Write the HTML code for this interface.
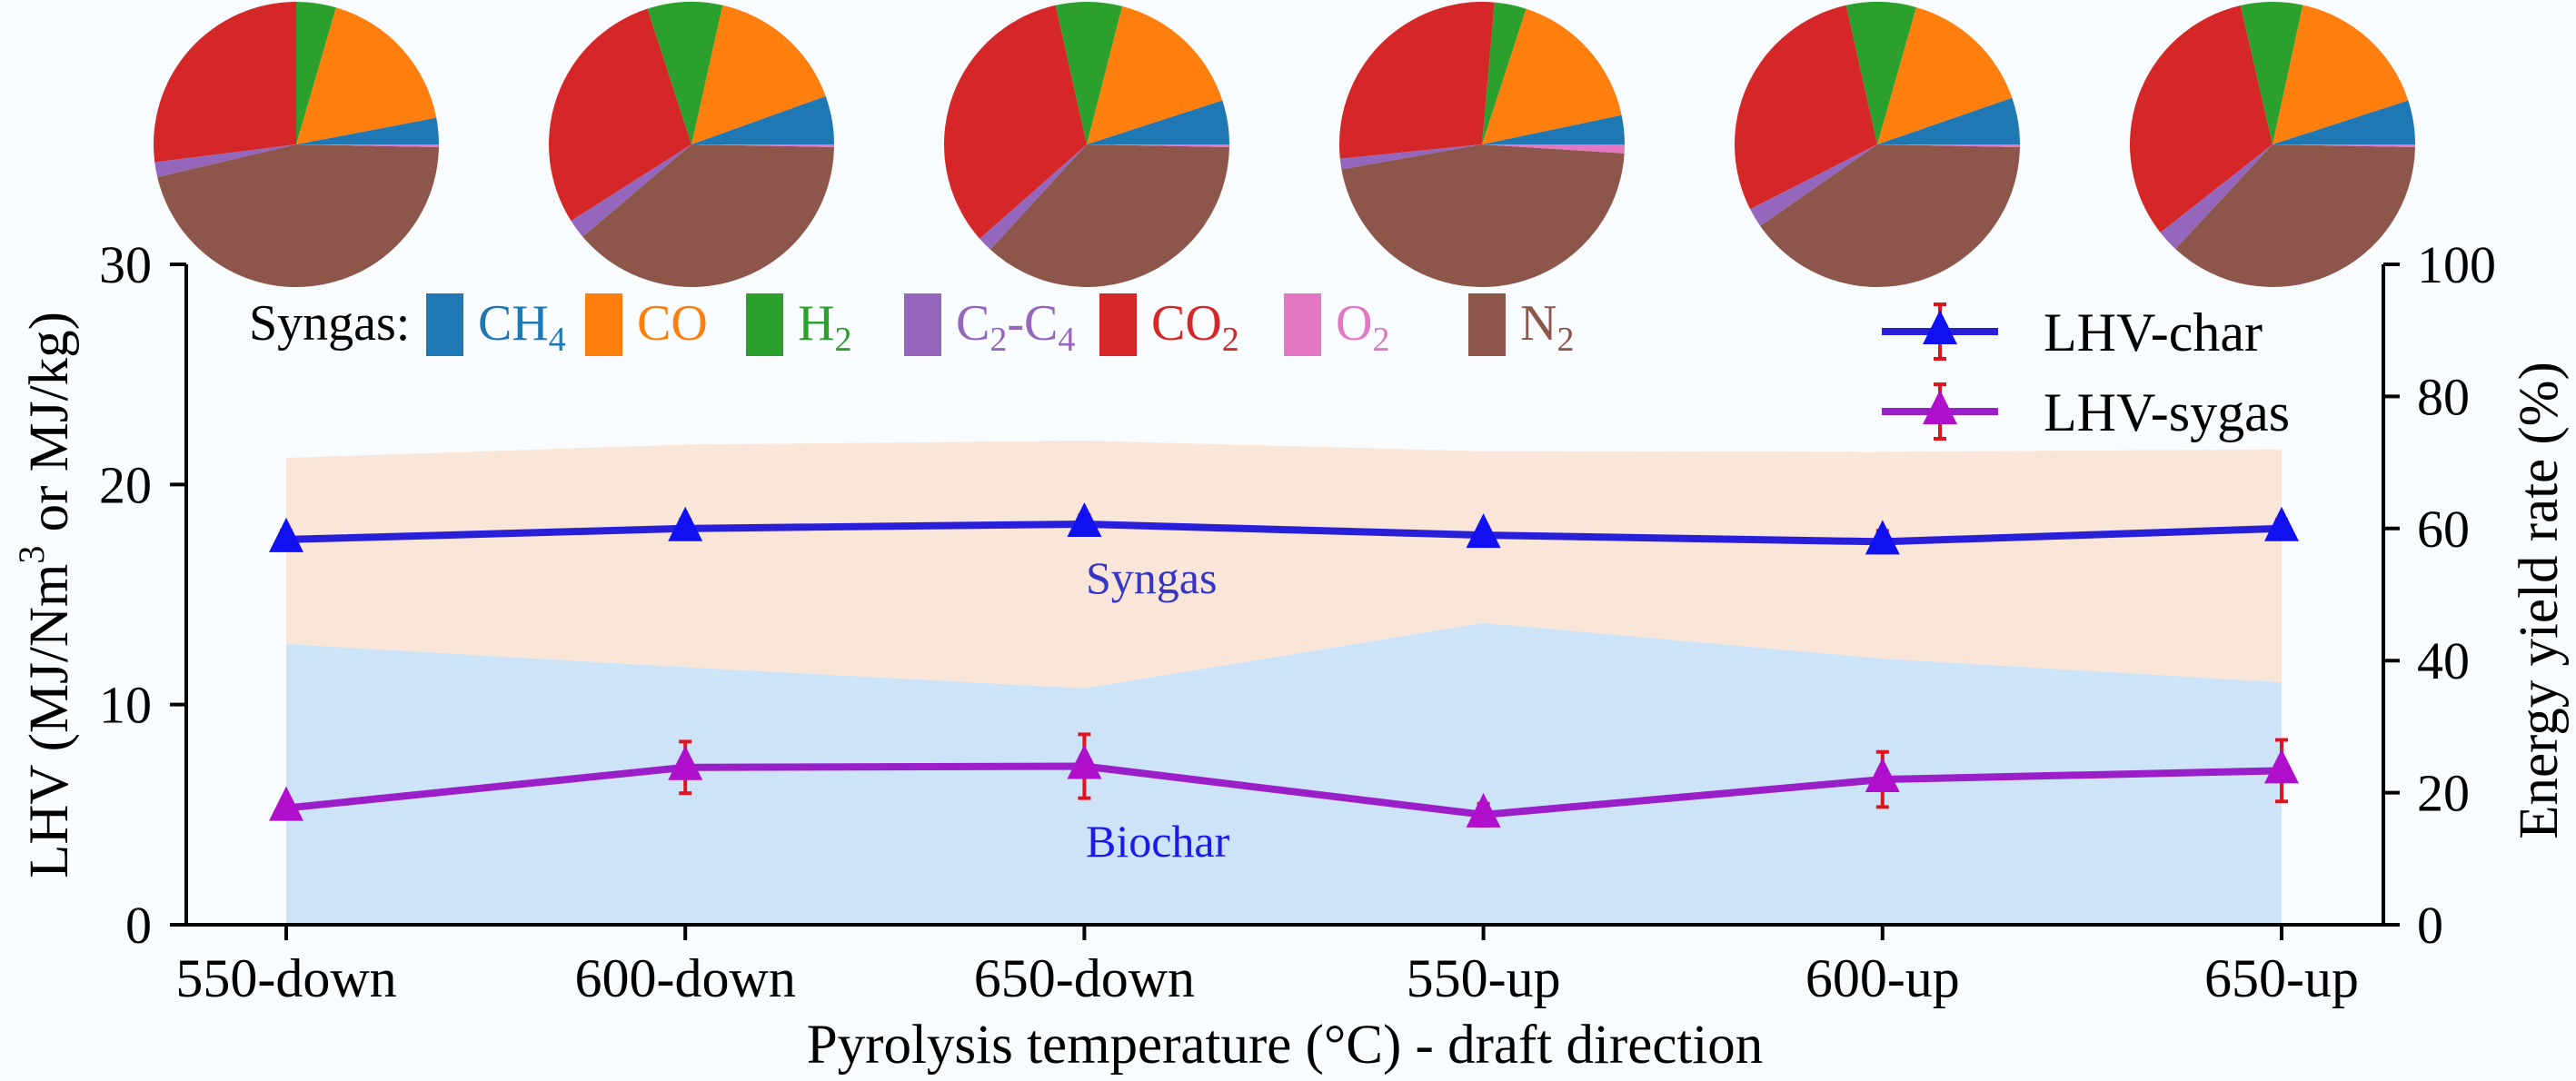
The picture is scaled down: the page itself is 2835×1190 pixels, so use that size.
<!DOCTYPE html>
<html><head><meta charset="utf-8"><style>
html,body{margin:0;padding:0;background:#f8fcff;}
svg{display:block;font-family:"Liberation Serif","DejaVu Serif",serif;}
</style></head><body>
<svg id="chart" width="2835" height="1190" viewBox="0 0 2835 1190" xmlns="http://www.w3.org/2000/svg">
<rect width="2835" height="1190" fill="#f8fcff"/>
<g id="fills"></g><g id="lines"></g><g id="pies"></g><g id="axes"></g><g id="legend"></g>
</svg>
<script>
const categories = ["550-down","600-down","650-down","550-up","600-up","650-up"];
const lhvChar = [17.5, 18.0, 18.2, 17.7, 17.4, 18.0];
const lhvCharErr = [0.4, 0.4, 0.4, 0.3, 0.5, 0.4];
const lhvSyngas = [5.3, 7.15, 7.2, 5.0, 6.6, 7.0];
const lhvSyngasErr = [0.3, 1.17, 1.45, 0.5, 1.25, 1.4];
const biocharYield = [42.5, 39.0, 35.8, 45.7, 40.3, 36.7];
const totalYield = [70.7, 72.7, 73.3, 71.7, 71.6, 72.0];
const leftTicks = [0, 10, 20, 30];
const rightTicks = [0, 20, 40, 60, 80, 100];
// pie composition (%): CH4, CO, H2, CO2, C2-C4, N2, O2 (drawn counter-clockwise from east)
const gasNames = ["CH4","CO","H2","CO2","C2-C4","N2","O2"];
const pie1 = [3.0, 17.5, 4.5, 27.0, 1.7, 46.0, 0.3];
const pie2 = [5.5, 16.0, 8.5, 29.0, 2.2, 38.5, 0.3];
const pie3 = [5.0, 16.0, 7.5, 33.0, 1.7, 36.5, 0.3];
const pie4 = [3.3, 16.7, 3.6, 28.0, 1.2, 46.2, 1.0];
const pie5 = [5.3, 15.3, 7.9, 29.0, 2.2, 40.0, 0.3];
const pie6 = [5.0, 16.6, 7.0, 32.0, 2.5, 36.6, 0.3];
const pies = [pie1, pie2, pie3, pie4, pie5, pie6];

const NS = "http://www.w3.org/2000/svg";
const gasColors = ["#1f77b4","#ff7f0e","#2ca02c","#d62728","#9467bd","#8c564b","#e377c2"];
const X0 = 205, X1 = 2623, Y0 = 1018, Y1 = 291;
const xPos = i => 315 + i * 439.2;
const yL = v => Y0 - (v / 30) * (Y0 - Y1);
const yR = v => Y0 - (v / 100) * (Y0 - Y1);
function el(tag, attrs, parent){const e=document.createElementNS(NS,tag);for(const k in attrs)e.setAttribute(k,attrs[k]);parent.appendChild(e);return e;}
function txt(parent, x, y, str, size, anchor, color, sx, rot){
  const g = el("g", {transform:`translate(${x},${y}) rotate(${rot||0}) scale(${sx||1},1)`}, parent);
  const t = el("text", {x:0, y:0, "font-size":size, "text-anchor":anchor||"start", fill:color||"#000"}, g);
  t.textContent = str; return t;
}
const fills = document.getElementById("fills");
const lines = document.getElementById("lines");
const piesG = document.getElementById("pies");
const axes = document.getElementById("axes");
const legend = document.getElementById("legend");

// areas
let syn = "", bio = "";
categories.forEach((c,i)=>{ syn += (i?"L":"M")+xPos(i)+","+yR(totalYield[i])+" "; });
for (let i=categories.length-1;i>=0;i--) syn += "L"+xPos(i)+","+yR(biocharYield[i])+" ";
const synArea = el("path",{d:syn+"Z",fill:"#fae6d8"},fills);


categories.forEach((c,i)=>{ bio += (i?"L":"M")+xPos(i)+","+yR(biocharYield[i])+" "; });
bio += `L${xPos(categories.length-1)},${Y0} L${xPos(0)},${Y0} Z`;
const bioArea = el("path",{d:bio,fill:"#cde3f8"},fills);


let t = txt(fills, 1195, 653, "Syngas", 50, "start", "#3535c8");


t = txt(fills, 1195, 943, "Biochar", 50, "start", "#1a1aee");



function series(vals, errs, lineColor, markColor, name){
  const g = el("g",{},lines);
  
  
  const pl = el("polyline",{points:vals.map((v,i)=>xPos(i)+","+yL(v)).join(" "),fill:"none",stroke:lineColor,"stroke-width":8,"stroke-linejoin":"round"},g);
  
  
  vals.forEach((v,i)=>{
    const x=xPos(i), y=yL(v), yt=yL(v+errs[i]), yb=yL(v-errs[i]);
    const eb = el("path",{d:`M${x},${yt}V${yb}M${x-7},${yt}H${x+7}M${x-7},${yb}H${x+7}`,stroke:"#e0141e","stroke-width":4,fill:"none"},g);
    
    
    const m = el("path",{d:`M${x},${y-24}L${x+19},${y+14}L${x-19},${y+14}Z`,fill:markColor},g);
    
    
  });
}
series(lhvChar, lhvCharErr, "#2a1fd8", "#1010f0", "lhv-char");
series(lhvSyngas, lhvSyngasErr, "#9a1fc8", "#b010cc", "lhv-syngas");

// pies
pies.forEach((p,pi)=>{
  const cx = 326 + pi*435, cy = 159, r = 157;
  const g = el("g",{},piesG);
  
  
  const tot = p.reduce((a,b)=>a+b,0);
  let a0 = 0;
  p.forEach((v,k)=>{
    const a1 = a0 + v/tot*2*Math.PI;
    const x0 = cx + r*Math.cos(a0), y0 = cy - r*Math.sin(a0);
    const x1 = cx + r*Math.cos(a1), y1 = cy - r*Math.sin(a1);
    const large = (a1-a0) > Math.PI ? 1 : 0;
    const w = el("path",{d:`M${cx},${cy}L${x0},${y0}A${r},${r} 0 ${large} 0 ${x1},${y1}Z`,fill:gasColors[k]},g);
    
    
    a0 = a1;
  });
});

// axes
const ax = el("path",{d:`M${X0},${Y1}V${Y0}H${X1}V${Y1}`,fill:"none",stroke:"#000","stroke-width":4},axes);


leftTicks.forEach(v=>{
  const y=yL(v);
  const tk = el("line",{x1:X0-18,x2:X0,y1:y,y2:y,stroke:"#000","stroke-width":4},axes);
  
  
  const l = txt(axes, 167, y+20, String(v), 58, "end");
  
  
});
rightTicks.forEach(v=>{
  const y=yR(v);
  const tk = el("line",{x1:X1,x2:X1+18,y1:y,y2:y,stroke:"#000","stroke-width":4},axes);
  
  
  const l = txt(axes, 2660, y+20, String(v), 58, "start");
  
  
});
categories.forEach((c,i)=>{
  const x=xPos(i);
  const tk = el("line",{x1:x,x2:x,y1:Y0,y2:Y0+17,stroke:"#000","stroke-width":4},axes);
  
  
  const l = txt(axes, x, 1097, c, 60, "middle");
  
  
});
t = txt(axes, 1414, 1170, "Pyrolysis temperature (°C) - draft direction", 61, "middle");


// left y title
{
  const g = el("g",{transform:"translate(74,655) rotate(-90)"},axes);
  const tt = el("text",{x:0,y:0,"font-size":61,"text-anchor":"middle",fill:"#000"},g);
  tt.innerHTML = 'LHV (MJ/Nm<tspan dy="-26" font-size="40">3</tspan><tspan dy="26"> or MJ/kg)</tspan>';
  
  
}
t = txt(axes, 2814, 661, "Energy yield rate (%)", 61, "middle", "#000", 1, -90);



// syngas legend
t = txt(legend, 274, 374, "Syngas:", 56, "start");


const legX = [469, 644, 821, 995, 1210, 1413, 1616];
const legLabels = [["CH","4"],["CO",""],["H","2"],["C","2","-C","4"],["CO","2"],["O","2"],["N","2"]];
const legColorIdx = [0,1,2,4,3,6,5];
legX.forEach((x,i)=>{
  const c = gasColors[legColorIdx[i]];
  const r = el("rect",{x:x,y:323,width:41,height:69,fill:c},legend);
  
  
  const g = el("g",{transform:`translate(${x+57},374)`},legend);
  const tt = el("text",{x:0,y:0,"font-size":56,fill:c},g);
  const L = legLabels[i];
  let h = L[0];
  if (L[1]) h += `<tspan dy="12" font-size="38">${L[1]}</tspan>`;
  if (L[2]) h += `<tspan dy="-12">${L[2]}</tspan><tspan dy="12" font-size="38">${L[3]}</tspan>`;
  tt.innerHTML = h;
  
  
});
// line legend
[[365,"#2a1fd8","#1010f0","LHV-char"],[453,"#9a1fc8","#b010cc","LHV-sygas"]].forEach(([y,lc,mc,lab])=>{
  const g = el("g",{},legend);
  
  
  el("line",{x1:2071,x2:2199,y1:y,y2:y,stroke:lc,"stroke-width":8},g);
  const x=2135;
  el("path",{d:`M${x},${y-30}V${y+30}M${x-7},${y-30}H${x+7}M${x-7},${y+30}H${x+7}`,stroke:"#e0141e","stroke-width":4,fill:"none"},g);
  el("path",{d:`M${x},${y-24}L${x+19},${y+14}L${x-19},${y+14}Z`,fill:mc},g);
  txt(g, 2249, y+21, lab, 60, "start");
});
</script>
</body></html>
